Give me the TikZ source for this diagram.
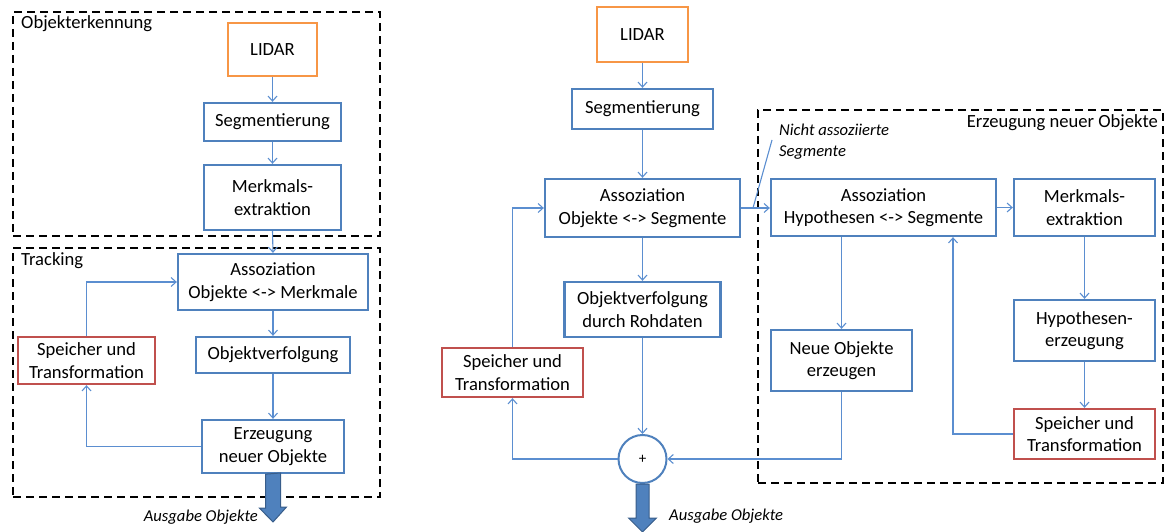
\documentclass[tikz,border=0pt]{standalone}
\usepackage{fontspec}
\setmainfont{Carlito}
\usetikzlibrary{arrows.meta,calc}
\definecolor{boxblue}{HTML}{4F81BD}
\definecolor{linkblue}{HTML}{5B8ED0}
\definecolor{boxorange}{HTML}{F79646}
\definecolor{boxred}{HTML}{C0504D}
\definecolor{darkblue}{HTML}{385D8A}
\tikzset{
  txt/.style={font=\fontsize{18.6pt}{22.4pt}\selectfont},
  note/.style={font=\fontsize{16.6pt}{21pt}\selectfont\itshape, inner sep=0pt},
  bbox/.style={txt, draw=boxblue, line width=2.3pt, fill=white, align=center, inner sep=0pt},
  obox/.style={bbox, draw=boxorange},
  rbox/.style={bbox, draw=boxred},
  group/.style={draw=black, line width=2pt, dash pattern=on 8pt off 5pt, inner sep=0pt},
  title/.style={txt, inner sep=0pt},
  conn/.style={draw=linkblue, line width=1.1pt, -{Straight Barb[length=5pt,width=9pt,line width=1.1pt]}},
  plain/.style={draw=linkblue, line width=1.1pt},
  fat/.style={fill=boxblue, draw=darkblue, line width=1pt, line join=miter},
}
\begin{document}
\begin{tikzpicture}[x=1pt,y=-1pt]
\useasboundingbox (0,0) rectangle (1165,532);

% ---------- left: object detection and tracking ----------
\node[group, minimum width=367pt, minimum height=224pt] (objG) at (196.5,124) {};
\node[title, anchor=west] (objT) at (21,24) {Objekterkennung};
\node[group, minimum width=367pt, minimum height=249pt] (trkG) at (196.5,372.5) {};
\node[title, anchor=west] (trkT) at (21,261) {Tracking};

\node[obox, minimum width=89pt, minimum height=53pt] (lidarL) at (272.5,49.5) {LIDAR};
\node[bbox, minimum width=137pt, minimum height=38pt] (segL) at (272.5,122) {Segmentierung};
\node[bbox, minimum width=137pt, minimum height=65pt] (merkL) at (272.5,197.5) {Merkmals-\\extraktion};
\node[bbox, minimum width=190pt, minimum height=56pt] (assL) at (273,282) {Assoziation\\Objekte <-> Merkmale};
\node[bbox, minimum width=154pt, minimum height=36pt] (verfL) at (273,355) {Objektverfolgung};
\node[bbox, minimum width=142pt, minimum height=53pt] (erzL) at (273,446.5) {Erzeugung\\neuer Objekte};
\node[rbox, minimum width=137pt, minimum height=47pt] (speiL) at (86.5,360.5) {Speicher und\\Transformation};

\draw[conn] (lidarL.south) -- (segL.north);
\draw[conn] (segL.south) -- (merkL.north);
\draw[conn] (merkL.south) -- (assL.north);
\draw[conn] (assL.south) -- (verfL.north);
\draw[conn] (verfL.south) -- (erzL.north);
\draw[conn] (erzL.west) -| (speiL.south);
\draw[conn] (speiL.north) |- (assL.west);

% output arrow
\coordinate (outL) at (273,522);
\draw[fat] ($(erzL.south)+(-7.5,0)$) -- ++(0,34) -- ++(-6,0) -- (outL) -- ++(13.5,-15) -- ++(-6,0) -- ++(0,-34) -- cycle;
\node[note, anchor=east] (ausL) at (258,517) {Ausgabe Objekte};

% ---------- middle: raw data tracking ----------
\node[obox, minimum width=91pt, minimum height=55pt] (lidarM) at (642.5,34.5) {LIDAR};
\node[bbox, minimum width=141pt, minimum height=40pt] (segM) at (642.5,109) {Segmentierung};
\node[bbox, minimum width=195pt, minimum height=58pt] (assM) at (642.5,208) {Assoziation\\Objekte <-> Segmente};
\node[bbox, minimum width=156pt, minimum height=55pt] (verfM) at (642.5,309.5) {Objektverfolgung\\durch Rohdaten};
\node[rbox, minimum width=141pt, minimum height=49pt] (speiM) at (512.5,372.5) {Speicher und\\Transformation};
\node[circle, draw=boxblue, line width=2pt, fill=white, minimum size=48pt, inner sep=0pt,
      font=\fontsize{15pt}{15pt}\selectfont] (plus) at (642.5,459) {+};

\draw[conn] (lidarM.south) -- (segM.north);
\draw[conn] (segM.south) -- (assM.north);
\draw[conn] (assM.south) -- (verfM.north);
\draw[conn] (verfM.south) -- (plus.north);
\draw[conn] (plus.west) -| (speiM.south);
\draw[conn] (speiM.north) |- (assM.west);

\coordinate (outM) at (642.5,532);
\draw[fat] ($(plus.south)+(-6.5,0)$) -- (636,518) -- (628.5,518) -- (outM) -- (656.5,518) -- (649,518) -- ($(plus.south)+(6.5,0)$) -- cycle;
\node[note, anchor=west] (ausM) at (669,516) {Ausgabe Objekte};

% ---------- right: creation of new objects ----------
\node[group, minimum width=405pt, minimum height=373pt] (newG) at (960.5,296.5) {};
\node[title, anchor=east] (newT) at (1158,123) {Erzeugung neuer Objekte};

\node[bbox, minimum width=225pt, minimum height=57pt] (assH) at (883.5,207.5) {Assoziation\\Hypothesen <-> Segmente};
\node[bbox, minimum width=141pt, minimum height=57pt] (merkR) at (1084.5,207.5) {Merkmals-\\extraktion};
\node[bbox, minimum width=141pt, minimum height=61pt] (neuR) at (841.5,360.5) {Neue Objekte\\erzeugen};
\node[bbox, minimum width=141pt, minimum height=61pt] (hypR) at (1084.5,330.5) {Hypothesen-\\erzeugung};
\node[rbox, minimum width=141pt, minimum height=50pt] (speiR) at (1084.5,434) {Speicher und\\Transformation};

\draw[conn] (assM.east) -- (assM.east -| assH.west);
\draw[conn] (assH.east) -- (assH.east -| merkR.west);
\draw[conn] (merkR.south) -- (hypR.north);
\draw[conn] (hypR.south) -- (speiR.north);
\draw[conn] (assH.south -| neuR.north) -- (neuR.north);
\draw[conn] (speiR.west) -| ([xshift=69.5pt]assH.south);
\draw[conn] (neuR.south) |- (plus.east);

% label of the unassociated segments
\node[note, anchor=west, align=left] (nicht) at (779,142) {Nicht assoziierte\\Segmente};
\coordinate (leadA) at (753,208);
\coordinate (leadB) at (772,140);
\draw[plain] (leadA) -- (leadB);
\end{tikzpicture}
\end{document}
